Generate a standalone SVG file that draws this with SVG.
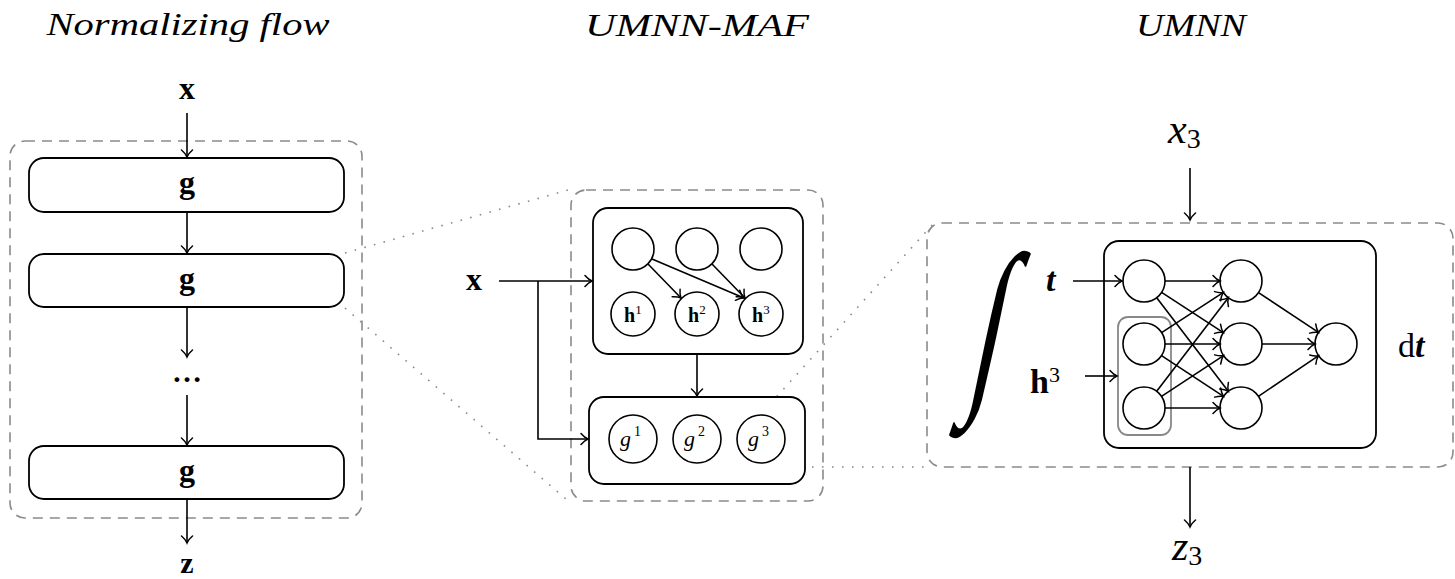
<svg xmlns="http://www.w3.org/2000/svg" width="1455" height="579" viewBox="0 0 1455 579">
<style>
text{font-family:"Liberation Serif","DejaVu Serif",serif;fill:#000}
.title{font-style:italic;font-size:32px;text-anchor:middle}
.bold{font-weight:bold}
.dash{fill:none;stroke:#8a8a8a;stroke-width:1.6;stroke-dasharray:10 7}
.dot{fill:none;stroke:#8a8a8a;stroke-width:1.6;stroke-dasharray:1.6 8.4}
.box{fill:#fff;stroke:#000;stroke-width:1.8}
.nd{fill:#fff;stroke:#000;stroke-width:1.6}
.ar{fill:none;stroke:#000;stroke-width:1.6;marker-end:url(#ah)}
</style>
<defs>
<marker id="ah" viewBox="-10 -8 12 16" refX="0" refY="0" markerWidth="12" markerHeight="16" orient="auto" markerUnits="userSpaceOnUse">
<path d="M-7,-5.5 C-4,-2 -1.5,-0.6 0,0 C-1.5,0.6 -4,2 -7,5.5" fill="none" stroke="#000" stroke-width="1.5" stroke-linecap="round"/>
</marker>
</defs>

<g id="titles">
<text class="title" x="188" y="35" textLength="283" lengthAdjust="spacingAndGlyphs">Normalizing flow</text>
<text class="title" x="697" y="36" textLength="224" lengthAdjust="spacingAndGlyphs">UMNN-MAF</text>
<text class="title" x="1191" y="36" textLength="110" lengthAdjust="spacingAndGlyphs">UMNN</text>
</g>

<!-- dashed containers -->
<g id="flow-container"><rect class="dash" x="10" y="141" width="352" height="377" rx="15"/></g>
<g id="maf-container"><rect class="dash" x="571" y="190" width="252" height="311" rx="15"/></g>
<g id="umnn-container"><rect class="dash" x="927" y="223" width="526" height="244" rx="15"/></g>

<!-- zoom dotted lines -->
<g id="zoom-lines">
<line class="dot" x1="345" y1="253" x2="568" y2="190"/>
<line class="dot" x1="345" y1="308" x2="567" y2="500"/>
<line class="dot" x1="770" y1="404" x2="934" y2="223"/>
<line class="dot" x1="772" y1="467" x2="927" y2="467"/>
</g>

<!-- Left: normalizing flow -->
<g id="in-x"><text class="bold" x="187" y="99" font-size="32" text-anchor="middle">x</text></g>
<g id="g1"><rect class="box" x="29" y="158" width="315" height="54" rx="15"/><text class="bold" x="187" y="193" font-size="32" text-anchor="middle">g</text></g>
<g id="g2"><rect class="box" x="29" y="254" width="315" height="53" rx="15"/><text class="bold" x="187" y="289" font-size="32" text-anchor="middle">g</text></g>
<g id="dots"><text class="bold" x="187" y="382" font-size="30" text-anchor="middle">…</text></g>
<g id="g3"><rect class="box" x="29" y="446" width="315" height="53" rx="15"/><text class="bold" x="187" y="481" font-size="32" text-anchor="middle">g</text></g>
<g id="out-z"><text class="bold" x="187" y="573" font-size="30" text-anchor="middle">z</text></g>

<!-- Middle: UMNN-MAF -->
<g id="maf-x"><text class="bold" x="474" y="290" font-size="32" text-anchor="middle">x</text></g>
<g id="conditioner">
<rect class="box" x="593" y="208" width="210" height="146" rx="15"/>
<circle class="nd" cx="633" cy="249" r="21"/>
<circle class="nd" cx="697" cy="249" r="21"/>
<circle class="nd" cx="761" cy="249" r="21"/>
<circle class="nd" cx="633" cy="314" r="22"/>
<circle class="nd" cx="697" cy="314" r="22"/>
<circle class="nd" cx="761" cy="314" r="22"/>
<text class="bold" x="624" y="322" font-size="20">h<tspan font-weight="normal" font-size="13" dy="-8">1</tspan></text>
<text class="bold" x="688" y="322" font-size="20">h<tspan font-weight="normal" font-size="13" dy="-8">2</tspan></text>
<text class="bold" x="752" y="322" font-size="20">h<tspan font-weight="normal" font-size="13" dy="-8">3</tspan></text>
</g>
<g id="transformers">
<rect class="box" x="589" y="397" width="216" height="87" rx="15"/>
<circle class="nd" cx="633" cy="439" r="24"/>
<circle class="nd" cx="697" cy="439" r="24"/>
<circle class="nd" cx="761" cy="439" r="24"/>
<text x="620" y="446" font-size="22" font-style="italic">g<tspan font-style="normal" font-size="14" dx="3" dy="-10">1</tspan></text>
<text x="684" y="446" font-size="22" font-style="italic">g<tspan font-style="normal" font-size="14" dx="3" dy="-10">2</tspan></text>
<text x="748" y="446" font-size="22" font-style="italic">g<tspan font-style="normal" font-size="14" dx="3" dy="-10">3</tspan></text>
</g>

<!-- Right: UMNN -->
<g id="umnn-x3"><text x="1168" y="143" font-size="42" font-style="italic">x<tspan font-style="normal" font-size="28" dy="5">3</tspan></text></g>
<g id="integral"><text x="0" y="0" font-size="191" text-anchor="middle" transform="translate(981,387) skewX(-12) scale(0.6,1)">∫</text></g>
<g id="umnn-t"><text class="bold" x="1046" y="291" font-size="34" font-style="italic">t</text></g>
<g id="umnn-h3"><text class="bold" x="1030" y="393" font-size="34">h<tspan font-weight="normal" font-size="22" dy="-11">3</tspan></text></g>
<g id="umnn-dt"><text x="1398" y="357" font-size="34">d<tspan font-weight="bold" font-style="italic">t</tspan></text></g>
<g id="umnn-z3"><text x="1172" y="560" font-size="42" font-style="italic">z<tspan font-style="normal" font-size="28" dy="5">3</tspan></text></g>
<g id="network">
<rect class="box" x="1104" y="241" width="272" height="207" rx="15"/>
<rect x="1118" y="317" width="53" height="118" rx="10" fill="none" stroke="#888" stroke-width="1.8"/>
<circle class="nd" cx="1144" cy="281" r="21"/>
<circle class="nd" cx="1144" cy="344" r="21"/>
<circle class="nd" cx="1144" cy="408" r="21"/>
<circle class="nd" cx="1241" cy="281" r="21"/>
<circle class="nd" cx="1241" cy="344" r="21"/>
<circle class="nd" cx="1241" cy="408" r="21"/>
<circle class="nd" cx="1336" cy="344" r="21"/>
</g>

<g id="connectors">
<!-- left -->
<line class="ar" x1="187" y1="113" x2="187" y2="157"/>
<line class="ar" x1="187" y1="212" x2="187" y2="253"/>
<line class="ar" x1="187" y1="307" x2="187" y2="357"/>
<line class="ar" x1="187" y1="395" x2="187" y2="445"/>
<line class="ar" x1="187" y1="499" x2="187" y2="543"/>
<!-- middle -->
<line class="ar" x1="499" y1="281" x2="592" y2="281"/>
<path class="ar" d="M538,281 V439 H588"/>
<line class="ar" x1="697" y1="354" x2="697" y2="396"/>
<line class="ar" x1="648" y1="264" x2="681" y2="298"/>
<line class="ar" x1="652" y1="259" x2="744" y2="298"/>
<line class="ar" x1="712" y1="264" x2="745" y2="298"/>
<!-- right -->
<line class="ar" x1="1190" y1="168" x2="1190" y2="220"/>
<line class="ar" x1="1190" y1="467" x2="1190" y2="527"/>
<line class="ar" x1="1073" y1="281" x2="1122" y2="281"/>
<line class="ar" x1="1085" y1="376" x2="1117" y2="376"/>
<line class="ar" x1="1165" y1="281" x2="1220" y2="281"/>
<line class="ar" x1="1161.6" y1="292.4" x2="1223.4" y2="332.6"/>
<line class="ar" x1="1156.7" y1="297.7" x2="1228.3" y2="391.3"/>
<line class="ar" x1="1161.6" y1="332.6" x2="1223.4" y2="292.4"/>
<line class="ar" x1="1165" y1="344" x2="1220" y2="344"/>
<line class="ar" x1="1161.5" y1="355.6" x2="1223.5" y2="396.4"/>
<line class="ar" x1="1156.7" y1="391.3" x2="1228.3" y2="297.7"/>
<line class="ar" x1="1161.5" y1="396.4" x2="1223.5" y2="355.6"/>
<line class="ar" x1="1165" y1="408" x2="1220" y2="408"/>
<line class="ar" x1="1258.5" y1="292.6" x2="1318.5" y2="332.4"/>
<line class="ar" x1="1262" y1="344" x2="1315" y2="344"/>
<line class="ar" x1="1258.4" y1="396.3" x2="1318.6" y2="355.7"/>
</g>
</svg>
